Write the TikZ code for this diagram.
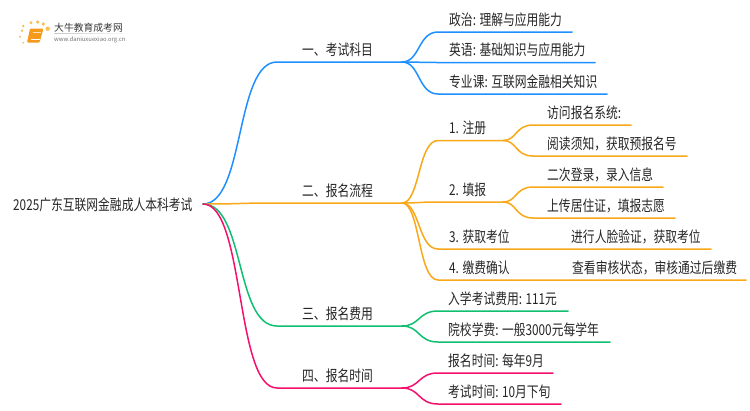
\documentclass[tikz,border=0pt]{standalone}
\usepackage{fontspec}
\usetikzlibrary{calc}
\setmainfont[FakeStretch=0.785]{Noto Sans CJK SC}
\newfontfamily\logofont{Noto Sans CJK SC}
\definecolor{cblue}{HTML}{1E90FF}
\definecolor{cor}{HTML}{F9A81A}
\definecolor{cgr}{HTML}{10C070}
\definecolor{cpk}{HTML}{F5106E}
\definecolor{cdot}{HTML}{F8C050}
\definecolor{cbook}{HTML}{F59A1C}
\tikzset{x=1pt,y=-1pt,
 lbl/.style={font=\fontsize{15}{17}\selectfont,text=black!85,anchor=base west,inner sep=0},
 br/.style={line width=1.5pt,line cap=round}}
\begin{document}
\begin{tikzpicture}
\useasboundingbox (0,0) rectangle (750,410);
\fill[white] (0,0) rectangle (750,410);
\coordinate (root) at (203,204);
% logo
\foreach \a/\b/\r in {23.3/26/1.4,31/22.7/1.7,37.7/22/1.8,43.3/24/1.8,47.7/28.7/2.2,22/30.7/1.3,20/36.7/1.1,23.3/42.7/1}{\fill[cdot] (\a,\b) circle (\r);}
\fill[cbook,rounded corners=1pt] (30,28.5) -- (43.5,28.5) -- (39.5,42.5) -- (27,42.5) -- cycle;
\draw[white,line width=.5pt] (31,39.5) -- (39.5,39.5);
\draw[white!70!cbook,line width=.5pt] (32.5,32) -- (40.5,32);
\shade[left color=black!22,right color=white] (54,33) rectangle (133,33.7);
\node[inner sep=0,anchor=base west,font=\logofont\fontsize{9.8}{11}\selectfont,text=black!78] (logo1) at (54,31) {大牛教育成考网};
\node[inner sep=0,anchor=base west,font=\logofont\fontsize{5.9}{7}\selectfont,text=black!55] (logo2) at (54,41) {www.daniuxuexiao.org.cn};
\node[lbl] (t0) at (13,210.3) {2025广东互联网金融成人本科考试};
% level 1
\foreach \n/\c/\y/\t in {a/cblue/62/一、考试科目,b/cor/203/二、报名流程,c/cgr/326/三、报名费用,d/cpk/388/四、报名时间}{
 \node[lbl] (t\n) at (302,\y-6.7) {\t};
 \coordinate (k\n) at (402,\y);
 \draw[br,\c] (root) .. controls (245,204) and (235,\y) .. (277,\y) -- (k\n);
}
% level 2
\foreach \c/\sy/\y/\ex/\tx/\t [count=\i] in {
 cblue/62/32/572/449/政治: 理解与应用能力,
 cblue/62/62.5/595/449/英语: 基础知识与应用能力,
 cblue/62/94/607/449/专业课: 互联网金融相关知识,
 cor/203/140.5/503/449/1. 注册,
 cor/203/202/503/449/2. 填报,
 cor/203/249/711/449/3. 获取考位,
 cor/203/280/746/449/4. 缴费确认,
 cgr/326/311/568/448/入学考试费用: 111元,
 cgr/326/342/610/448/院校学费: 一般3000元每学年,
 cpk/388/373/553/448/报名时间: 每年9月,
 cpk/388/404/561/448/考试时间: 10月下旬}{
 \node[lbl] (n\i) at (\tx,\y-6.7) {\t};
 \coordinate (u\i) at (402,\sy);
 \coordinate (v\i) at (\ex,\y);
 \draw[br,\c] (u\i) .. controls (420,\sy) and (418,\y) .. (438,\y) -- (v\i);
}
% level 3
\foreach \sy/\y/\ex/\t [count=\i] in {140.5/125/631/访问报名系统:,140.5/156/687/阅读须知，获取预报名号,202/187/663/二次登录，录入信息,202/218/675/上传居住证，填报志愿}{
 \node[lbl] (m\i) at (547,\y-6.7) {\t};
 \coordinate (p\i) at (503,\sy);
 \coordinate (q\i) at (\ex,\y);
 \draw[br,cor] (p\i) .. controls (517,\sy) and (515,\y) .. (533,\y) -- (q\i);
}
\node[lbl] (x1) at (571,242.3) {进行人脸验证，获取考位};
\node[lbl] (x2) at (572,273.3) {查看审核状态，审核通过后缴费};
\end{tikzpicture}
\end{document}
